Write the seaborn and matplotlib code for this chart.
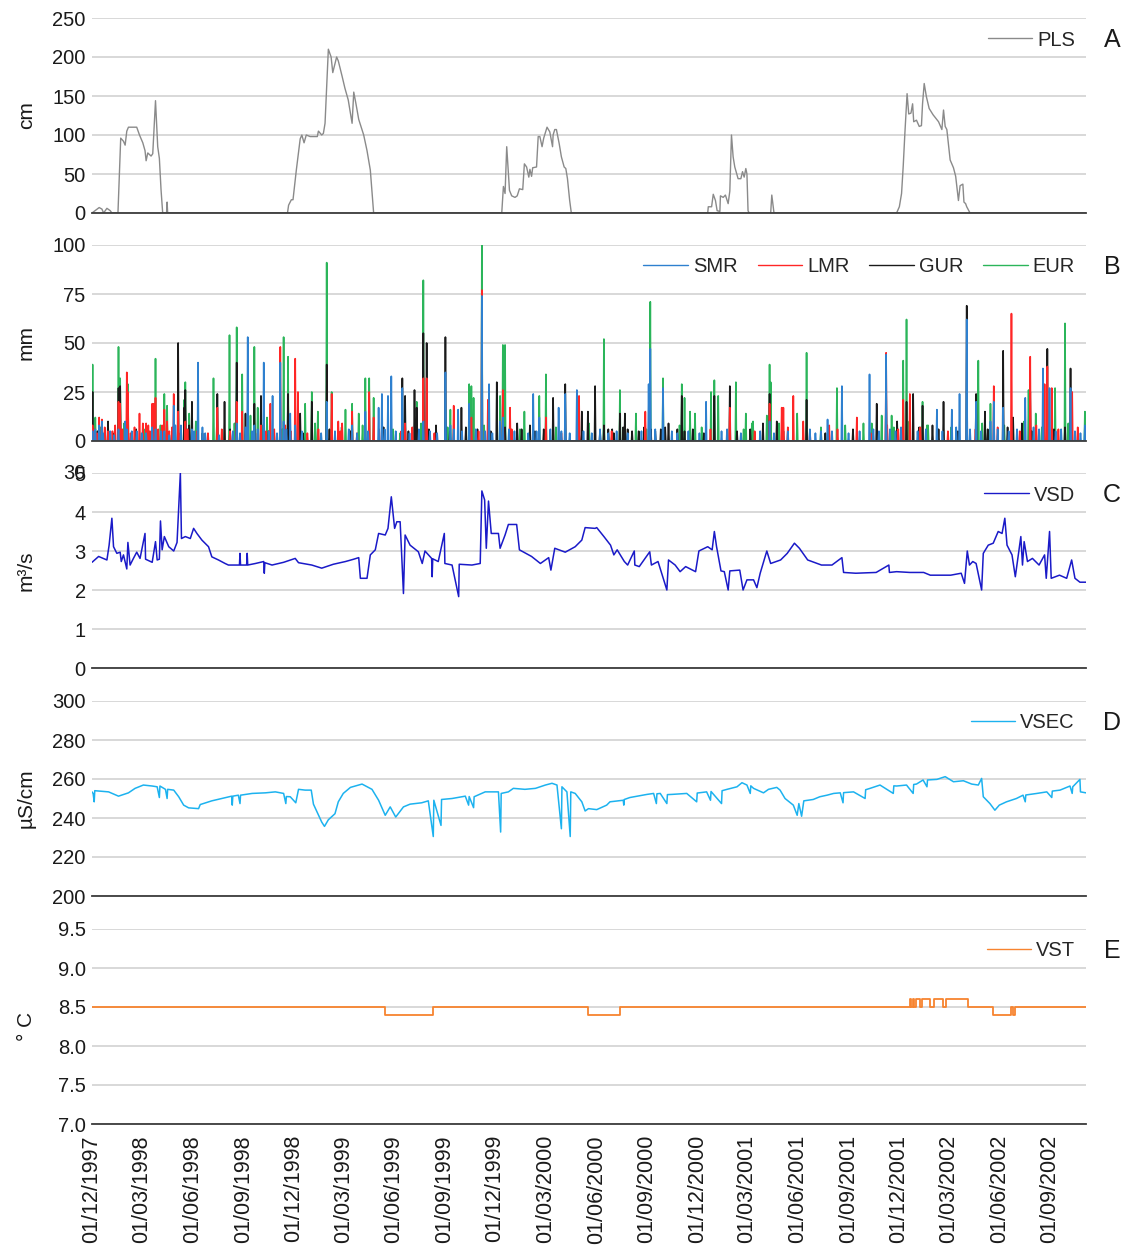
import numpy as np
import pandas as pd
import matplotlib
matplotlib.use("Agg")
import matplotlib.pyplot as plt
from matplotlib.lines import Line2D
import seaborn as sns

# All series are indexed by day = days since 1 December 1997
START = pd.Timestamp("1997-12-01")
LAST_DAY = 1800

# A - snow depth at PLS (cm)
pls_day = [0, 13, 18, 21, 27, 33, 36, 47, 52, 57, 60, 63, 66, 81, 86, 92, 96, 98, 101, 107, 110, 115, 119, 122, 125, 128, 135, 136, 137,
           354, 356, 361, 364, 370, 377, 380, 384, 388, 395, 408, 410, 416, 419, 422, 428, 433, 436, 443, 446, 453, 458, 464, 471, 474, 478, 483, 492, 498, 504, 510,
           742, 745, 748, 751, 756, 760, 766, 770, 774, 780, 783, 787, 791, 793, 796, 798, 805, 808, 811, 815, 818, 824, 829, 834, 835, 838, 841, 846, 850, 855, 858, 861, 865, 868,
           1115, 1116, 1122, 1125, 1129, 1132, 1137, 1138, 1143, 1147, 1152, 1155, 1158, 1161, 1164, 1170, 1175, 1178, 1181, 1184, 1186, 1188, 1190, 1229, 1231, 1235,
           1457, 1462, 1466, 1469, 1472, 1476, 1479, 1483, 1486, 1488, 1493, 1498, 1502, 1504, 1507, 1511, 1516, 1523, 1533, 1539, 1542, 1545, 1548, 1554, 1560, 1564, 1569, 1572, 1577, 1579, 1582, 1584, 1590, 1800]
pls_cm = [0, 7, 5, 0, 6, 3, 0, 0, 96, 92, 87, 105, 110, 110, 100, 90, 80, 67, 77, 73, 76, 144, 85, 70, 30, 0, 0, 14, 0,
          0, 10, 17, 17, 55, 95, 100, 90, 100, 98, 98, 105, 100, 102, 115, 210, 200, 180, 200, 195, 175, 160, 145, 115, 155, 140, 120, 100, 80, 55, 0,
          0, 34, 25, 85, 29, 22, 20, 22, 31, 30, 63, 59, 46, 56, 47, 58, 59, 98, 98, 85, 96, 110, 104, 85, 100, 107, 107, 89, 72, 59, 57, 44, 16, 0,
          0, 8, 8, 24, 16, 3, 2, 22, 20, 23, 12, 28, 100, 72, 59, 44, 44, 53, 46, 57, 50, 3, 0, 0, 23, 0,
          0, 8, 25, 60, 102, 153, 127, 128, 140, 117, 119, 111, 112, 140, 166, 149, 134, 126, 117, 107, 132, 111, 107, 68, 58, 47, 16, 35, 37, 14, 12, 8, 0, 0]

# B - daily rainfall (mm) on rain days; all other days are dry
smr_day = [1, 6, 13, 18, 33, 48, 60, 63, 72, 81, 98, 109, 115, 131, 148, 151, 161, 181, 192, 200,
           262, 278, 282, 294, 311, 327, 341, 347, 359, 368, 425, 471, 495, 519, 525, 536, 542, 562, 600, 640,
           649, 663, 683, 706, 719, 739, 744, 799, 810, 845, 857, 878, 1008, 1011, 1034, 1112, 1227, 1320, 1332, 1358,
           1408, 1438, 1530, 1557, 1571, 1584, 1601, 1627, 1633, 1650, 1690, 1722, 1734, 1772, 1798]
smr_mm = [5, 6, 8, 10, 5, 6, 10, 6, 5, 5, 4, 7, 6, 5, 18, 8, 8, 6, 40, 7,
          9, 7, 53, 8, 40, 23, 40, 10, 14, 8, 20, 8, 15, 17, 24, 23, 33, 27, 10, 35,
          8, 16, 19, 74, 29, 10, 12, 24, 12, 17, 24, 26, 29, 47, 27, 20, 10, 5, 11, 28,
          34, 44, 16, 16, 24, 62, 20, 10, 20, 17, 22, 37, 27, 27, 8]
smr_light_day = [20, 40, 90, 125, 140, 185, 205, 230, 255, 268, 290, 300, 320, 335, 352, 380, 415, 440, 465, 480,
                 500, 530, 550, 575, 592, 612, 625, 655, 670, 695, 712, 725, 755, 765, 790, 805, 830, 850, 865, 890,
                 905, 920, 935, 950, 970, 995, 1020, 1050, 1060, 1080, 1100, 1140, 1150, 1175, 1210, 1235, 1260, 1300, 1310, 1340,
                 1370, 1390, 1415, 1425, 1445, 1455, 1465, 1495, 1510, 1540, 1565, 1590, 1610, 1640, 1660, 1675, 1705, 1715, 1745, 1755,
                 1780, 1790]
smr_light_mm = [4, 3, 4, 5, 3, 5, 4, 3, 5, 4, 5, 6, 5, 4, 6, 5, 4, 5, 6, 4,
                5, 6, 5, 4, 6, 5, 4, 6, 5, 6, 5, 4, 6, 5, 4, 5, 6, 5, 4, 5,
                4, 6, 4, 5, 4, 5, 6, 5, 4, 5, 4, 5, 6, 4, 5, 4, 5, 6, 4, 5,
                4, 5, 6, 5, 6, 5, 7, 5, 6, 5, 7, 6, 5, 6, 5, 6, 7, 6, 5, 6,
                5, 4]
lmr_day = [1, 13, 18, 29, 48, 51, 63, 65, 86, 98, 102, 109, 112, 115, 131, 136, 148, 156, 169, 227,
           262, 272, 306, 323, 341, 368, 373, 434, 446, 453, 471, 502, 510, 567, 600, 606, 655, 687, 706, 717,
           744, 757, 822, 882, 941, 1002, 1155, 1227, 1249, 1252, 1270, 1288, 1335, 1385, 1438, 1469, 1481, 1633, 1665, 1699,
           1725, 1730, 1738, 1775]
lmr_mm = [8, 12, 11, 5, 20, 19, 35, 25, 14, 9, 8, 19, 19, 22, 16, 10, 24, 15, 10, 17,
          20, 15, 8, 19, 48, 42, 25, 24, 10, 9, 15, 25, 12, 9, 32, 32, 18, 12, 77, 21,
          26, 17, 12, 23, 5, 15, 17, 19, 17, 17, 23, 10, 8, 12, 45, 21, 24, 28, 65, 43,
          29, 38, 27, 25]
lmr_light_day = [5, 9, 23, 37, 42, 55, 70, 77, 92, 105, 120, 127, 140, 145, 160, 173, 190, 210, 235, 250,
                 280, 300, 315, 330, 350, 360, 390, 410, 450, 480, 520, 560, 580, 620, 700, 760, 850, 1010, 1120, 1200,
                 1260, 1300, 1350, 1410, 1440, 1460, 1500, 1550, 1600, 1640, 1680, 1710, 1750, 1785]
lmr_light_mm = [6, 4, 7, 5, 8, 6, 4, 7, 9, 5, 6, 8, 5, 7, 4, 6, 5, 4, 6, 5,
                7, 4, 5, 6, 8, 5, 4, 6, 5, 4, 6, 5, 7, 4, 5, 6, 4, 5, 6, 5,
                7, 5, 6, 4, 8, 6, 7, 5, 6, 7, 5, 8, 6, 7]
gur_day = [1, 29, 48, 51, 156, 167, 169, 176, 181, 227, 240, 262, 278, 294, 306, 355, 377, 398, 425, 562,
           567, 584, 588, 600, 606, 640, 669, 733, 770, 793, 835, 857, 887, 898, 911, 920, 927, 935, 945, 956,
           965, 970, 990, 1000, 1020, 1030, 1044, 1060, 1068, 1127, 1155, 1215, 1227, 1240, 1294, 1421, 1438, 1458, 1475, 1487,
           1504, 1522, 1542, 1584, 1601, 1617, 1650, 1668, 1684, 1699, 1730, 1772]
gur_mm = [25, 10, 27, 28, 50, 17, 26, 8, 20, 24, 20, 40, 14, 19, 23, 24, 14, 20, 39, 32,
          23, 26, 17, 55, 50, 53, 17, 30, 9, 8, 22, 29, 15, 15, 28, 5, 8, 6, 4, 14,
          14, 6, 5, 7, 5, 6, 9, 6, 23, 23, 28, 9, 24, 10, 21, 19, 27, 10, 20, 24,
          18, 8, 20, 69, 24, 15, 46, 12, 9, 25, 47, 37]
gur_light_day = [10, 40, 80, 130, 200, 250, 320, 382, 430, 468, 528, 573, 610, 623, 648, 677, 698, 722, 748, 778,
                 802, 818, 882, 942, 962, 978, 1012, 1038, 1073, 1088, 1108, 1168, 1192, 1252, 1328, 1378, 1468, 1498, 1533, 1568,
                 1622, 1658, 1702, 1742, 1762]
gur_light_mm = [5, 4, 6, 5, 4, 6, 5, 4, 6, 5, 7, 5, 6, 8, 5, 7, 6, 5, 7, 6,
                5, 6, 4, 6, 7, 5, 6, 7, 5, 6, 4, 5, 6, 5, 4, 6, 5, 7, 6, 5,
                6, 7, 5, 6, 7]
eur_day = [1, 6, 48, 51, 65, 115, 124, 131, 136, 167, 169, 176, 220, 249, 262, 272, 287, 294, 300, 317,
           347, 355, 386, 398, 409, 425, 434, 459, 471, 483, 495, 502, 510, 558, 588, 600, 649, 683, 687, 691,
           706, 739, 744, 748, 783, 810, 822, 927, 956, 985, 1011, 1034, 1068, 1073, 1083, 1092, 1121, 1127, 1134, 1166,
           1184, 1195, 1197, 1222, 1227, 1229, 1277, 1294, 1349, 1397, 1430, 1448, 1469, 1475, 1504, 1512, 1605, 1627, 1696, 1709,
           1744, 1762, 1798]
eur_mm = [39, 12, 48, 32, 29, 42, 8, 24, 18, 21, 30, 14, 32, 54, 58, 34, 13, 48, 17, 12,
          53, 43, 19, 25, 15, 91, 25, 16, 19, 14, 32, 32, 22, 4, 20, 82, 16, 29, 28, 22,
          100, 23, 49, 49, 15, 23, 34, 52, 26, 14, 71, 32, 29, 22, 15, 14, 25, 31, 23, 30,
          14, 9, 10, 13, 39, 30, 14, 45, 27, 9, 13, 13, 41, 62, 20, 8, 41, 19, 26, 14,
          27, 60, 15]
eur_light_day = [16, 58, 96, 150, 188, 226, 258, 308, 344, 404, 452, 490, 545, 596, 644, 710, 775, 840, 900, 1004,
                 1064, 1104, 1180, 1244, 1320, 1364, 1412, 1452, 1480, 1514, 1556, 1612, 1652, 1688, 1720, 1768]
eur_light_mm = [7, 9, 6, 8, 10, 7, 9, 8, 6, 9, 7, 8, 6, 9, 7, 8, 6, 7, 9, 6,
                8, 7, 6, 9, 7, 8, 9, 7, 10, 8, 7, 9, 8, 10, 7, 9]

# C - spring discharge VSD (m3/s)
vsd_day = [0, 12, 27, 31, 36, 39, 45, 51, 53, 57, 63, 65, 69, 75, 81, 87, 96, 97, 109, 115,
           118, 122, 124, 127, 131, 139, 148, 154, 160, 162, 169, 178, 184, 190, 199, 211, 217, 229, 241, 247,
           267, 268, 269, 280, 281, 282, 296, 311, 312, 313, 326, 347, 368, 374, 398, 416, 437, 459, 474, 483,
           486, 498, 504, 513, 519, 531, 536, 542, 548, 552, 558, 564, 567, 576, 591, 598, 603, 615, 616, 617,
           627, 638, 639, 652, 664, 665, 688, 703, 706, 711, 714, 718, 723, 736, 739, 748, 754, 769, 774, 796,
           812, 827, 831, 838, 857, 875, 887, 893, 911, 914, 927, 939, 945, 951, 964, 970, 982, 983, 991, 1010,
           1013, 1025, 1041, 1044, 1056, 1065, 1075, 1093, 1099, 1115, 1123, 1127, 1131, 1139, 1145, 1152, 1155, 1173, 1179, 1186,
           1198, 1204, 1210, 1222, 1229, 1247, 1259, 1272, 1281, 1296, 1321, 1340, 1358, 1361, 1383, 1420, 1443, 1444, 1457, 1481,
           1506, 1518, 1555, 1574, 1580, 1585, 1589, 1595, 1601, 1611, 1614, 1623, 1632, 1641, 1648, 1653, 1657, 1666, 1672, 1682,
           1685, 1688, 1694, 1703, 1715, 1725, 1728, 1734, 1737, 1752, 1765, 1774, 1780, 1789, 1800]
vsd_m3s = [2.71, 2.86, 2.77, 3.15, 3.84, 3.11, 2.94, 2.97, 2.73, 2.90, 2.54, 3.22, 2.64, 2.81, 2.97, 2.81, 3.45, 2.79, 2.71, 3.24,
           2.77, 2.79, 3.77, 3.03, 3.37, 3.11, 3.00, 3.22, 5.00, 3.32, 3.37, 3.32, 3.58, 3.45, 3.28, 3.11, 2.85, 2.77, 2.68, 2.64,
           2.64, 2.94, 2.64, 2.64, 2.94, 2.64, 2.68, 2.73, 2.43, 2.70, 2.64, 2.71, 2.81, 2.70, 2.64, 2.56, 2.66, 2.73, 2.79, 2.83,
           2.30, 2.30, 2.90, 3.03, 3.45, 3.41, 3.58, 4.39, 3.58, 3.75, 3.75, 1.91, 3.41, 3.15, 2.98, 2.68, 3.00, 2.81, 2.34, 2.80,
           2.73, 3.45, 2.68, 2.64, 1.83, 2.66, 2.64, 2.68, 4.54, 4.31, 3.07, 4.28, 3.45, 3.45, 3.07, 3.41, 3.68, 3.68, 3.03, 2.86,
           2.68, 2.83, 2.51, 3.07, 2.97, 3.11, 3.28, 3.60, 3.58, 3.60, 3.37, 3.15, 2.90, 3.03, 2.73, 2.64, 3.00, 2.64, 2.60, 2.98,
           2.64, 2.73, 2.00, 2.77, 2.64, 2.47, 2.60, 2.47, 3.00, 3.11, 3.03, 3.50, 3.11, 2.49, 2.47, 2.00, 2.49, 2.51, 2.00, 2.26,
           2.26, 2.06, 2.43, 3.00, 2.68, 2.77, 2.94, 3.20, 3.07, 2.77, 2.64, 2.64, 2.83, 2.45, 2.43, 2.45, 2.64, 2.45, 2.47, 2.45,
           2.45, 2.38, 2.38, 2.43, 2.17, 3.00, 2.64, 2.73, 2.68, 2.00, 2.94, 3.15, 3.20, 3.50, 3.45, 3.84, 3.15, 2.90, 2.34, 3.37,
           2.64, 3.24, 2.73, 2.81, 2.64, 2.90, 2.30, 3.50, 2.30, 2.38, 2.30, 2.77, 2.30, 2.20, 2.20]

# D - spring electrical conductivity VSEC (uS/cm)
vsec_day = [0, 2, 4, 5, 30, 48, 66, 78, 93, 109, 118, 122, 123, 133, 136, 137, 148, 157, 166, 175,
            193, 196, 217, 235, 253, 254, 255, 265, 268, 269, 290, 314, 332, 347, 351, 352, 359, 369, 374, 386,
            397, 401, 409, 416, 421, 428, 440, 446, 455, 468, 489, 507, 519, 531, 540, 550, 564, 576, 597, 609,
            618, 619, 632, 633, 652, 676, 682, 683, 691, 692, 712, 736, 740, 741, 754, 763, 784, 803, 821, 833,
            842, 850, 851, 860, 866, 867, 875, 887, 893, 899, 914, 932, 938, 962, 963, 964, 974, 1005, 1017, 1022,
            1023, 1029, 1041, 1042, 1050, 1077, 1095, 1096, 1113, 1120, 1121, 1140, 1141, 1150, 1168, 1177, 1186, 1192, 1193, 1198,
            1216, 1225, 1240, 1246, 1255, 1270, 1277, 1280, 1285, 1289, 1306, 1318, 1331, 1343, 1355, 1360, 1361, 1379, 1400, 1401,
            1409, 1427, 1451, 1452, 1457, 1475, 1487, 1488, 1493, 1505, 1512, 1513, 1530, 1545, 1560, 1578, 1593, 1605, 1611, 1614,
            1626, 1635, 1643, 1656, 1674, 1686, 1690, 1691, 1711, 1729, 1738, 1739, 1753, 1771, 1775, 1776, 1789, 1790, 1800]
vsec_us = [253.4, 252.6, 248.3, 254.0, 253.4, 251.2, 252.9, 255.2, 256.9, 256.4, 256.0, 250.5, 256.4, 254.7, 250.0, 254.7, 254.3, 250.9, 246.6, 245.2,
           244.8, 246.9, 248.8, 250.0, 251.2, 246.6, 251.2, 251.7, 247.4, 251.7, 252.6, 252.9, 253.4, 252.6, 247.4, 251.0, 250.9, 247.8, 254.7, 254.3,
           254.3, 247.1, 242.2, 237.9, 235.7, 239.1, 242.2, 248.3, 252.6, 255.7, 257.4, 254.7, 249.1, 241.4, 245.7, 240.5, 245.7, 247.1, 247.8, 248.8,
           230.5, 249.1, 236.2, 249.5, 250.0, 251.2, 246.6, 251.0, 245.3, 250.9, 253.4, 253.4, 232.8, 252.6, 253.4, 255.2, 254.7, 255.2, 256.9, 257.8,
           256.9, 234.5, 256.0, 253.4, 230.5, 253.4, 252.6, 248.3, 243.6, 244.8, 244.3, 246.6, 248.3, 249.1, 246.6, 249.5, 250.5, 252.1, 252.6, 247.4,
           252.4, 252.6, 247.4, 252.0, 252.1, 252.6, 248.3, 252.8, 253.4, 249.1, 253.6, 247.4, 254.0, 254.7, 256.0, 258.1, 256.9, 252.6, 256.5, 255.2,
           252.9, 254.7, 255.7, 254.3, 250.0, 246.6, 241.4, 247.4, 240.9, 248.8, 249.5, 250.9, 251.7, 252.6, 252.9, 247.8, 253.0, 253.4, 250.0, 254.5,
           255.2, 256.9, 252.6, 256.5, 256.4, 256.9, 252.6, 257.2, 257.4, 259.5, 256.0, 259.5, 259.8, 261.2, 258.6, 259.1, 257.4, 256.9, 260.3, 250.9,
           247.4, 244.0, 246.6, 248.3, 250.0, 251.7, 248.3, 251.8, 252.6, 253.4, 250.5, 253.8, 254.3, 256.4, 252.6, 256.0, 259.8, 253.4, 252.9]

# E - spring water temperature VST (deg C), value holds until the next change
vst_day = [0, 531, 618, 898, 956, 1481, 1483, 1487, 1489, 1492, 1500, 1503, 1518, 1525, 1541, 1546, 1586, 1632, 1665, 1667, 1672, 1800]
vst_c = [8.5, 8.4, 8.5, 8.4, 8.5, 8.6, 8.5, 8.6, 8.5, 8.6, 8.5, 8.6, 8.5, 8.6, 8.5, 8.6, 8.5, 8.4, 8.5, 8.4, 8.5, 8.5]

tick_dates = pd.date_range("1997-12-01", "2002-09-01", freq="3MS")

COLORS = {"PLS": "#8a8a8a", "SMR": "#2e80cf", "LMR": "#ff2626", "GUR": "#1a1a1a",
          "EUR": "#2bb55a", "VSD": "#1a1ac8", "VSEC": "#1cb2ef", "VST": "#f7842f"}

sns.set_style("white")
plt.rcParams["font.family"] = ["Liberation Sans", "DejaVu Sans"]
TICK_FS = 14.5


def points(days, values):
    return pd.DataFrame({"date": START + pd.to_timedelta(np.asarray(days), unit="D"),
                         "value": np.asarray(values, dtype=float)})


def daily(day_lists, value_lists):
    v = np.zeros(LAST_DAY + 1)
    for d, mm in zip(day_lists, value_lists):
        v[np.asarray(d)] = mm
    return points(np.arange(LAST_DAY + 1), v)


W, H = 1121, 1252
fig = plt.figure(figsize=(W / 100, H / 100), dpi=100)
X0, X1 = 92, 1086
rows = [(18, 213), (245, 441), (473, 668), (701, 896), (929, 1124)]
axes = [fig.add_axes([X0 / W, 1 - b / H, (X1 - X0) / W, (b - t) / H]) for t, b in rows]
ax_a, ax_b, ax_c, ax_d, ax_e = axes

# A
sns.lineplot(data=points(pls_day, pls_cm), x="date", y="value", ax=ax_a,
             color=COLORS["PLS"], lw=1.0, estimator=None)
# B - drawn back to front
rain = {
    "EUR": daily([eur_light_day, eur_day], [eur_light_mm, eur_mm]),
    "GUR": daily([gur_light_day, gur_day], [gur_light_mm, gur_mm]),
    "LMR": daily([lmr_light_day, lmr_day], [lmr_light_mm, lmr_mm]),
    "SMR": daily([smr_light_day, smr_day], [smr_light_mm, smr_mm]),
}
for name in ["EUR", "GUR", "LMR", "SMR"]:
    sns.lineplot(data=rain[name], x="date", y="value", ax=ax_b,
                 color=COLORS[name], lw=1.2, estimator=None)
# C
sns.lineplot(data=points(vsd_day, vsd_m3s), x="date", y="value", ax=ax_c,
             color=COLORS["VSD"], lw=1.1, estimator=None)
# D
sns.lineplot(data=points(vsec_day, vsec_us), x="date", y="value", ax=ax_d,
             color=COLORS["VSEC"], lw=1.1, estimator=None)
# E
sns.lineplot(data=points(vst_day, vst_c), x="date", y="value", ax=ax_e,
             color=COLORS["VST"], lw=1.3, estimator=None, drawstyle="steps-post")

limits = [(0, 250, np.arange(0, 251, 50)), (0, 100, np.arange(0, 101, 25)),
          (0, 5, np.arange(0, 6, 1)), (200, 300, np.arange(200, 301, 20)),
          (7.0, 9.5, np.arange(7.0, 9.51, 0.5))]
units = ["cm", "mm", "m³/s", "µS/cm", "° C"]
letters = ["A", "B", "C", "D", "E"]

for i, ax in enumerate(axes):
    lo, hi, yt = limits[i]
    ax.set_xlim(START, START + pd.Timedelta(days=LAST_DAY))
    ax.set_ylim(lo, hi)
    ax.set_yticks(yt)
    if i == 4:
        ax.set_yticklabels([f"{v:.1f}" for v in yt])
    else:
        ax.set_yticklabels([f"{v:g}" for v in yt])
    for s in ["top", "right", "left"]:
        ax.spines[s].set_visible(False)
    ax.spines["bottom"].set_color("#3c3c3c")
    ax.spines["bottom"].set_linewidth(1.3)
    ax.grid(axis="y", color="#d2d2d2", lw=1.2)
    ax.grid(axis="x", visible=False)
    ax.set_axisbelow(True)
    ax.tick_params(axis="y", length=0, pad=4.5, labelsize=TICK_FS, colors="#1a1a1a")
    ax.set_xticks(tick_dates)
    ax.set_xlabel("")
    ax.set_ylabel(units[i], fontsize=15, color="#1a1a1a")
    ax.yaxis.set_label_coords((36 - X0) / (X1 - X0), 0.5)
    if i < 4:
        ax.tick_params(axis="x", length=0, labelbottom=False)
    fig.text(1112 / W, 1 - (rows[i][0] + 22) / H, letters[i], fontsize=18,
             ha="center", va="center", color="#1a1a1a")

ax_e.set_xticklabels([d.strftime("%d/%m/%Y") for d in tick_dates], rotation=90)
ax_e.tick_params(axis="x", length=6, width=1.2, color="#3c3c3c", direction="out",
                 pad=2, labelsize=15.5, colors="#1a1a1a")
ax_e.tick_params(axis="x", color="#3c3c3c")

# second label printed over the top tick of panel C
ax_c.annotate("30", xy=(0, 5), xycoords=ax_c.get_yaxis_transform(), xytext=(-4.5, 0),
              textcoords="offset points", ha="right", va="center",
              fontsize=TICK_FS, color="#1a1a1a")

leg_kw = dict(frameon=False, fontsize=TICK_FS, handlelength=2.2, handletextpad=0.25,
              borderaxespad=0, borderpad=0, loc="center right")


def legend(ax, names, row):
    handles = [Line2D([], [], color=COLORS[n], lw=1.0) for n in names]
    top, bot = row
    ax.legend(handles, names, ncol=len(names), columnspacing=1.0,
              bbox_to_anchor=(1 - 11 / (X1 - X0), 1 - 22 / (bot - top)), **leg_kw)


legend(ax_a, ["PLS"], rows[0])
legend(ax_b, ["SMR", "LMR", "GUR", "EUR"], rows[1])
legend(ax_c, ["VSD"], rows[2])
legend(ax_d, ["VSEC"], rows[3])
legend(ax_e, ["VST"], rows[4])

fig.savefig("out.png", dpi=100)
